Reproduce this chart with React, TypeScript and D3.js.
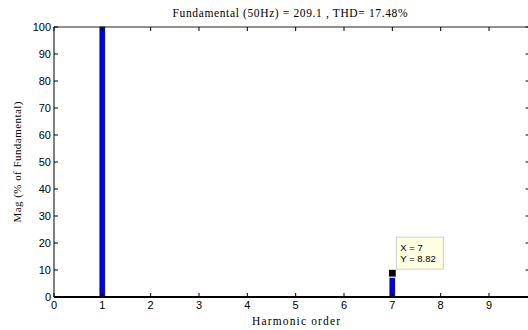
import { useEffect, useRef } from 'react';
import * as d3 from 'd3';

const harmonics = [0, 1, 2, 3, 4, 5, 6, 7, 8, 9];
const magnitudes = [0, 100, 0, 0, 0, 0, 0, 8.82, 0, 0];
const xTicks = [0, 1, 2, 3, 4, 5, 6, 7, 8, 9];
const yTicks = [0, 10, 20, 30, 40, 50, 60, 70, 80, 90, 100];
const tipX = 7;
const tipY = 8.82;

const App = () => {
  const svgRef = useRef<SVGSVGElement>(null);

  useEffect(() => {
    if (!svgRef.current) return;
    const svg = d3.select(svgRef.current);
    svg.selectAll('*').remove();

    const width = 528;
    const height = 330;
    const left = 54;
    const top = 27;
    const bottom = 297;

    // plot is cut off on the right in the original figure
    const x = d3.scaleLinear().domain([0, 9]).range([left, 489]);
    const y = d3.scaleLinear().domain([0, 100]).range([bottom, top]);
    const right = x(9.84);

    svg.attr('width', width).attr('height', height);
    svg.append('rect').attr('width', width).attr('height', height).attr('fill', '#fff');

    // bars
    const barW = 0.1;
    svg.selectAll('rect.bar')
      .data(harmonics.map((h, i) => ({ h, v: magnitudes[i] })).filter(d => d.v > 0))
      .enter()
      .append('rect')
      .attr('class', 'bar')
      .attr('x', d => x(d.h - barW / 2))
      .attr('width', x(barW) - x(0))
      .attr('y', d => y(d.v))
      .attr('height', d => y(0) - y(d.v))
      .attr('fill', '#0000ff')
      .attr('stroke', '#000033')
      .attr('stroke-width', 0.8);

    // axes box
    svg.append('line').attr('x1', left).attr('x2', right).attr('y1', top).attr('y2', top)
      .attr('stroke', '#222').attr('stroke-width', 1);
    svg.append('line').attr('x1', left).attr('x2', right).attr('y1', bottom).attr('y2', bottom)
      .attr('stroke', '#000').attr('stroke-width', 2);
    svg.append('line').attr('x1', left).attr('x2', left).attr('y1', top).attr('y2', bottom)
      .attr('stroke', '#000').attr('stroke-width', 1);
    svg.append('line').attr('x1', right).attr('x2', right).attr('y1', top).attr('y2', bottom)
      .attr('stroke', '#000').attr('stroke-width', 1);

    const tickLen = 4;
    const tickFont = 'Liberation Sans, Arial, sans-serif';

    xTicks.forEach(t => {
      svg.append('line').attr('x1', x(t)).attr('x2', x(t)).attr('y1', bottom).attr('y2', bottom - tickLen)
        .attr('stroke', '#000');
      svg.append('line').attr('x1', x(t)).attr('x2', x(t)).attr('y1', top).attr('y2', top + tickLen)
        .attr('stroke', '#000');
      svg.append('text').attr('x', x(t)).attr('y', bottom + 12)
        .attr('text-anchor', 'middle').attr('font-family', tickFont).attr('font-size', 11)
        .text(t);
    });

    yTicks.forEach(t => {
      svg.append('line').attr('x1', left).attr('x2', left + tickLen).attr('y1', y(t)).attr('y2', y(t))
        .attr('stroke', '#000');
      svg.append('line').attr('x1', right).attr('x2', right - tickLen).attr('y1', y(t)).attr('y2', y(t))
        .attr('stroke', '#000');
      svg.append('text').attr('x', left - 3).attr('y', y(t) + 4)
        .attr('text-anchor', 'end').attr('font-family', tickFont).attr('font-size', 11)
        .text(t);
    });

    const serif = 'Liberation Serif, Times New Roman, serif';
    svg.append('text').attr('x', 290).attr('y', 17).attr('text-anchor', 'middle')
      .attr('font-family', serif).attr('font-size', 11.5)
      .attr('textLength', 235).attr('lengthAdjust', 'spacing')
      .text('Fundamental (50Hz) = 209.1 , THD= 17.48%');
    svg.append('text').attr('x', 296).attr('y', 325).attr('text-anchor', 'middle')
      .attr('font-family', serif).attr('font-size', 11.5)
      .attr('textLength', 88).attr('lengthAdjust', 'spacing')
      .text('Harmonic order');
    svg.append('text')
      .attr('transform', `translate(21,${(top + bottom) / 2}) rotate(-90)`)
      .attr('text-anchor', 'middle')
      .attr('font-family', serif).attr('font-size', 11)
      .attr('textLength', 121).attr('lengthAdjust', 'spacing')
      .text('Mag (% of Fundamental)');

    // data tip
    const px = x(tipX);
    const py = y(tipY);
    svg.append('rect').attr('x', px - 4).attr('y', py - 4).attr('width', 8).attr('height', 8)
      .attr('fill', '#000').attr('stroke', '#ffffe1').attr('stroke-width', 1.2);
    const bx = px + 4;
    const by = py - 36;
    svg.append('rect').attr('x', bx).attr('y', by).attr('width', 47).attr('height', 32)
      .attr('fill', '#ffffe1').attr('stroke', '#cfcfcf').attr('stroke-width', 1);
    svg.append('text').attr('x', bx + 4).attr('y', by + 14)
      .attr('font-family', tickFont).attr('font-size', 9.5).text(`X = ${tipX}`);
    svg.append('text').attr('x', bx + 4).attr('y', by + 25)
      .attr('font-family', tickFont).attr('font-size', 9.5).text(`Y = ${tipY}`);
  }, []);

  return (
    <div style={{ position: 'absolute', left: 0, top: 0 }}>
      <svg ref={svgRef} style={{ display: 'block' }}></svg>
    </div>
  );
};

export default App;
